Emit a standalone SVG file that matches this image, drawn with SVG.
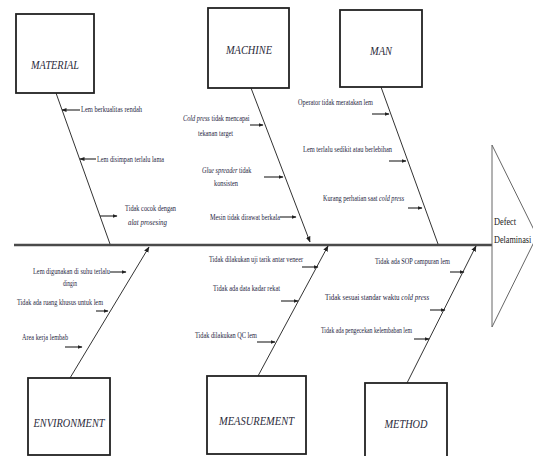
<svg xmlns="http://www.w3.org/2000/svg" width="533" height="456" viewBox="0 0 533 456">
<defs>
<style>
.box{fill:#fff;stroke:#222;stroke-width:1.8}
.lbl{font-family:"Liberation Serif",serif;font-style:italic;font-size:13px;fill:#2a2a3a;text-anchor:middle}
.c{font-family:"Liberation Serif",serif;font-size:7.5px;fill:#1e2440}
.i{font-style:italic}
.br{stroke:#333;stroke-width:1;fill:none}
.ar{stroke:#222;stroke-width:1.1;fill:none;marker-end:url(#ah)}
.sp{stroke:#4a4a4a;stroke-width:2.6;fill:none}
.hd{stroke:#666;stroke-width:1;fill:none}
.head{font-family:"Liberation Serif",serif;font-size:10px;fill:#222}
</style>
<marker id="ah" viewBox="0 0 10 10" refX="9" refY="5" markerWidth="5" markerHeight="5" orient="auto" markerUnits="userSpaceOnUse">
<path d="M0,1 L10,5 L0,9 z" fill="#222"/>
</marker>
<marker id="bh" viewBox="0 0 10 10" refX="9" refY="5" markerWidth="6" markerHeight="6" orient="auto" markerUnits="userSpaceOnUse">
<path d="M0,1 L10,5 L0,9 z" fill="#222"/>
</marker>
</defs>

<g id="connectors">
<line class="sp" x1="14" y1="245" x2="492" y2="245"/>
<line class="br" x1="56" y1="93" x2="110" y2="244"/>
<line class="br" x1="251" y1="88" x2="310" y2="242" marker-end="url(#bh)"/>
<line class="br" x1="381" y1="87" x2="438" y2="244"/>
<line class="br" x1="70" y1="378" x2="149" y2="247" marker-end="url(#bh)"/>
<line class="br" x1="258" y1="376" x2="328" y2="246" marker-end="url(#bh)"/>
<line class="br" x1="407" y1="383" x2="476" y2="246" marker-end="url(#bh)"/>
<line class="ar" x1="80" y1="110" x2="62" y2="110"/>
<line class="ar" x1="96" y1="159" x2="80" y2="159"/>
<line class="ar" x1="100" y1="216" x2="117" y2="216"/>
<line class="ar" x1="250" y1="125" x2="263" y2="125"/>
<line class="ar" x1="264" y1="177" x2="283" y2="177"/>
<line class="ar" x1="280" y1="217" x2="296" y2="217"/>
<line class="ar" x1="372" y1="114" x2="389" y2="114"/>
<line class="ar" x1="389" y1="161" x2="406" y2="161"/>
<line class="ar" x1="408" y1="208" x2="422" y2="208"/>
<line class="ar" x1="110" y1="272" x2="126" y2="272"/>
<line class="ar" x1="96" y1="311" x2="108" y2="311"/>
<line class="ar" x1="65" y1="347" x2="82" y2="347"/>
<line class="ar" x1="302" y1="267" x2="318" y2="267"/>
<line class="ar" x1="281" y1="301" x2="298" y2="301"/>
<line class="ar" x1="257" y1="342" x2="275" y2="342"/>
<line class="ar" x1="450" y1="272" x2="464" y2="272"/>
<line class="ar" x1="430" y1="310" x2="445" y2="310"/>
<line class="ar" x1="414" y1="339" x2="429" y2="339"/>
</g>

<g id="head">
<path class="hd" d="M492,145 L537,236 L492,327 Z"/>
<text class="head" transform="translate(494,225) scale(0.83,1)">Defect</text>
<text class="head" transform="translate(494,243) scale(0.82,1)">Delaminasi</text>
</g>

<g id="material">
<rect class="box" x="16" y="14" width="78" height="79"/>
<text class="lbl" x="55" y="69" textLength="48" lengthAdjust="spacingAndGlyphs">MATERIAL</text>
</g>
<g id="machine">
<rect class="box" x="208" y="8" width="81" height="80"/>
<text class="lbl" x="249" y="54" textLength="46" lengthAdjust="spacingAndGlyphs">MACHINE</text>
</g>
<g id="man">
<rect class="box" x="340" y="10" width="82" height="77"/>
<text class="lbl" x="381" y="55" textLength="22" lengthAdjust="spacingAndGlyphs">MAN</text>
</g>
<g id="environment">
<rect class="box" x="28" y="378" width="82" height="77"/>
<text class="lbl" x="69" y="427" textLength="71" lengthAdjust="spacingAndGlyphs">ENVIRONMENT</text>
</g>
<g id="measurement">
<rect class="box" x="207" y="376" width="99" height="78"/>
<text class="lbl" x="256.5" y="425" textLength="75" lengthAdjust="spacingAndGlyphs">MEASUREMENT</text>
</g>
<g id="method">
<rect class="box" x="365" y="383" width="82" height="90"/>
<text class="lbl" x="406" y="428" textLength="43" lengthAdjust="spacingAndGlyphs">METHOD</text>
</g>

<g id="causes-material">
<text class="c" x="81" y="112" textLength="61" lengthAdjust="spacingAndGlyphs">Lem berkualitas rendah</text>
<text class="c" x="97" y="161.5" textLength="67" lengthAdjust="spacingAndGlyphs">Lem disimpan terlalu lama</text>
<text class="c" x="125" y="210.5" textLength="51" lengthAdjust="spacingAndGlyphs">Tidak cocok dengan</text>
<text class="c i" x="128" y="224.5" textLength="39" lengthAdjust="spacingAndGlyphs">alat prosesing</text>
</g>
<g id="causes-machine">
<text class="c" transform="translate(183,120.5) scale(0.84,1)"><tspan class="i">Cold press</tspan> tidak mencapai</text>
<text class="c" x="198" y="135.5" textLength="35" lengthAdjust="spacingAndGlyphs">tekanan target</text>
<text class="c" transform="translate(202,172.5) scale(0.83,1)"><tspan class="i">Glue spreader</tspan> tidak</text>
<text class="c" x="214" y="185.5" textLength="24" lengthAdjust="spacingAndGlyphs">konsisten</text>
<text class="c" x="210" y="219.5" textLength="70" lengthAdjust="spacingAndGlyphs">Mesin tidak dirawat berkala</text>
</g>
<g id="causes-man">
<text class="c" x="298" y="105" textLength="75" lengthAdjust="spacingAndGlyphs">Operator tidak meratakan lem</text>
<text class="c" x="303" y="151.5" textLength="89" lengthAdjust="spacingAndGlyphs">Lem terlalu sedikit atau berlebihan</text>
<text class="c" transform="translate(323,200.5) scale(0.83,1)">Kurang perhatian saat <tspan class="i">cold press</tspan></text>
</g>
<g id="causes-environment">
<text class="c" x="33" y="273.5" textLength="77" lengthAdjust="spacingAndGlyphs">Lem digunakan di suhu terlalu</text>
<text class="c" x="63" y="285.5" textLength="14" lengthAdjust="spacingAndGlyphs">dingin</text>
<text class="c" x="17" y="304.5" textLength="86" lengthAdjust="spacingAndGlyphs">Tidak ada ruang khusus untuk lem</text>
<text class="c" x="22" y="339.5" textLength="46" lengthAdjust="spacingAndGlyphs">Area kerja lembab</text>
</g>
<g id="causes-measurement">
<text class="c" x="209" y="261.5" textLength="94" lengthAdjust="spacingAndGlyphs">Tidak dilakukan uji tarik antar veneer</text>
<text class="c" x="213" y="290.5" textLength="67" lengthAdjust="spacingAndGlyphs">Tidak ada data kadar rekat</text>
<text class="c" x="195" y="337.5" textLength="62" lengthAdjust="spacingAndGlyphs">Tidak dilakukan QC lem</text>
</g>
<g id="causes-method">
<text class="c" x="375" y="263.5" textLength="75" lengthAdjust="spacingAndGlyphs">Tidak ada SOP campuran lem</text>
<text class="c" transform="translate(325,299.5) scale(0.92,1)">Tidak sesuai standar waktu <tspan class="i">cold press</tspan></text>
<text class="c" x="321" y="332.5" textLength="91" lengthAdjust="spacingAndGlyphs">Tidak ada pengecekan kelembaban lem</text>
</g>
</svg>
